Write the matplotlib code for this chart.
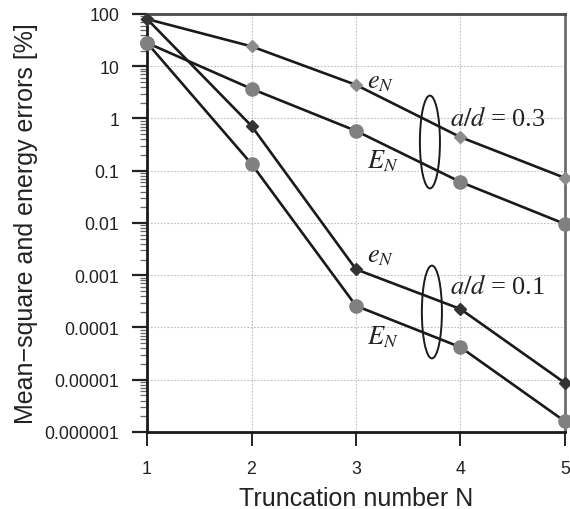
import numpy as np
import matplotlib
matplotlib.use("Agg")
import matplotlib.pyplot as plt
from matplotlib.patches import Ellipse
from matplotlib.ticker import FixedLocator, LogLocator, NullFormatter

plt.rcParams["mathtext.fontset"] = "stix"
plt.rcParams["font.family"] = ["Liberation Sans", "DejaVu Sans"]

# Truncation number
N = [1, 2, 3, 4, 5]

# Errors in percent
e_03 = [80, 24, 4.4, 0.44, 0.073]          # mean-square error, a/d = 0.3
E_03 = [28, 3.7, 0.58, 0.061, 0.0096]      # energy error, a/d = 0.3
e_01 = [80, 0.72, 0.0013, 0.000226, 8.7e-6]  # mean-square error, a/d = 0.1
E_01 = [28, 0.135, 0.00026, 4.2e-5, 1.6e-6]  # energy error, a/d = 0.1

y_ticks = [100, 10, 1, 0.1, 0.01, 0.001, 0.0001, 0.00001, 0.000001]
y_tick_labels = ["100", "10", "1", "0.1", "0.01", "0.001", "0.0001",
                 "0.00001", "0.000001"]
x_ticks = [1, 2, 3, 4, 5]

fig = plt.figure(figsize=(5.7, 5.1), dpi=100)
ax = fig.add_axes([0.258, 0.151, 0.733, 0.8196])

ax.set_xscale("linear")
ax.set_yscale("log")
ax.set_xlim(1, 5)
ax.set_ylim(1e-6, 100)

line_kw = dict(color="#1a1a1a", lw=1.9, clip_on=False, zorder=3)
ax.plot(N, e_03, marker="D", ms=5.8, mfc="#8c8c8c", mec="#8c8c8c", **line_kw)
ax.plot(N, E_03, marker="o", ms=9.5, mfc="#808080", mec="#808080", **line_kw)
ax.plot(N, e_01, marker="D", ms=5.8, mfc="#333333", mec="#333333", **line_kw)
ax.plot(N, E_01, marker="o", ms=9.5, mfc="#808080", mec="#808080", **line_kw)

# Ticks
ax.yaxis.set_major_locator(FixedLocator(y_ticks))
ax.set_yticklabels(y_tick_labels)
ax.yaxis.set_minor_locator(LogLocator(base=10, subs=np.arange(2, 10), numticks=20))
ax.yaxis.set_minor_formatter(NullFormatter())
ax.set_xticks(x_ticks)
ax.set_xticklabels([str(v) for v in x_ticks])

ax.tick_params(axis="y", which="major", direction="out", length=11, width=1.6,
               pad=9, labelsize=12.8, labelcolor="#222222", color="#222222")
ax.tick_params(axis="y", which="minor", direction="out", length=5, width=0.9,
               color="#666666")
ax.tick_params(axis="x", which="major", direction="out", length=10, width=1.4,
               pad=10, labelsize=12.8, labelcolor="#222222", color="#222222")

ax.grid(True, which="major", linestyle=(0, (1.5, 1.5)), color="#bdbdbd", lw=0.8)
ax.set_axisbelow(True)

for side, col, w in [("left", "#1a1a1a", 2.0), ("bottom", "#1a1a1a", 2.0),
                     ("top", "#4a4a4a", 2.0), ("right", "#6e6e6e", 2.0)]:
    ax.spines[side].set_color(col)
    ax.spines[side].set_linewidth(w)

ax.set_xlabel("Truncation number N", fontsize=18, color="#222222", labelpad=7)
ax.set_ylabel("Mean\u2212square and energy errors [%]", fontsize=18,
              color="#222222", labelpad=5, y=0.5)

# Curve labels
txt_kw = dict(fontsize=19, color="#222222", ha="left", va="center", zorder=4,
              family=["Liberation Serif", "DejaVu Serif"])
ax.text(3.105, 5.0, r"$e_N$", **txt_kw)
ax.text(3.105, 0.161, r"$E_N$", **txt_kw)
ax.text(3.9, 1.02, r"$a/d$ = 0.3", **txt_kw)
ax.text(3.105, 0.00233, r"$e_N$", **txt_kw)
ax.text(3.105, 6.87e-5, r"$E_N$", **txt_kw)
ax.text(3.9, 6.2e-4, r"$a/d$ = 0.1", **txt_kw)

# Ellipses grouping each pair of curves
for cx, cy in [(3.708, 0.355), (3.727, 1.98e-4)]:
    px = ax.transAxes.inverted().transform(ax.transData.transform((cx, cy)))
    ax.add_patch(Ellipse(px, width=0.048, height=0.222, transform=ax.transAxes,
                         fill=False, ec="#1a1a1a", lw=1.4, zorder=4))

fig.savefig("out.png", dpi=100)
